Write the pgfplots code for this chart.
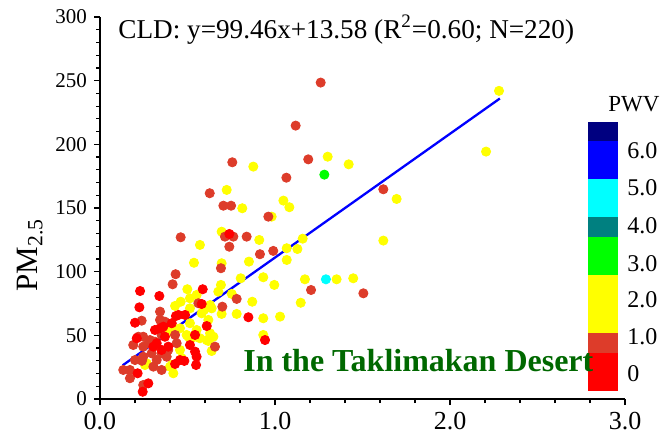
\documentclass[border=0pt]{standalone}
\usepackage{fontspec}
\setmainfont{Liberation Serif}
\usepackage{pgfplots}
\pgfplotsset{compat=1.18}
\definecolor{cbrown}{RGB}{221,60,42}
\definecolor{cred}{RGB}{255,0,0}
\definecolor{cyel}{RGB}{255,255,0}
\definecolor{cgrn}{RGB}{0,255,0}
\definecolor{ccyan}{RGB}{0,255,255}
\definecolor{cteal}{RGB}{0,128,128}
\definecolor{cblue}{RGB}{0,0,255}
\definecolor{cnavy}{RGB}{0,0,128}
\definecolor{tgreen}{RGB}{0,104,0}
\begin{document}
\begin{tikzpicture}
\begin{axis}[
  scale only axis, width=262.5pt, height=191pt,
  xmin=0, xmax=3, ymin=0, ymax=300,
  axis lines=left, axis line style={-, line width=0.7pt},
  xtick={0,1,2,3}, minor x tick num=4,
  ytick={0,50,...,300}, minor y tick num=4,
  tick align=outside, major tick length=3pt, minor tick length=2pt,
  tick style={line width=0.6pt, black},
  /pgf/number format/assume math mode=true,
  x tick label style={font=\fontsize{13}{13}\selectfont, /pgf/number format/.cd, fixed, fixed zerofill, precision=1},
  y tick label style={font=\fontsize{10.5}{10.5}\selectfont},
  ylabel={PM\textsubscript{2.5}},
  every axis y label/.style={at={(rel axis cs:-0.133,0.377)}, rotate=90, anchor=center, font=\fontsize{15.5}{15.5}\selectfont},
  clip=false,
]
\coordinate (bl) at (rel axis cs:0,0);
% colour bar
\addplot[fill=cred, draw=none, forget plot] coordinates {(2.789,6.5) (2.96,6.5) (2.96,36.4) (2.789,36.4)} -- cycle;
\addplot[fill=cbrown, draw=none, forget plot] coordinates {(2.789,36.4) (2.96,36.4) (2.96,51.6) (2.789,51.6)} -- cycle;
\addplot[fill=cyel, draw=none, forget plot] coordinates {(2.789,51.6) (2.96,51.6) (2.96,97.4) (2.789,97.4)} -- cycle;
\addplot[fill=cgrn, draw=none, forget plot] coordinates {(2.789,97.4) (2.96,97.4) (2.96,127.5) (2.789,127.5)} -- cycle;
\addplot[fill=cteal, draw=none, forget plot] coordinates {(2.789,127.5) (2.96,127.5) (2.96,142.7) (2.789,142.7)} -- cycle;
\addplot[fill=ccyan, draw=none, forget plot] coordinates {(2.789,142.7) (2.96,142.7) (2.96,172.6) (2.789,172.6)} -- cycle;
\addplot[fill=cblue, draw=none, forget plot] coordinates {(2.789,172.6) (2.96,172.6) (2.96,202.9) (2.789,202.9)} -- cycle;
\addplot[fill=cnavy, draw=none, forget plot] coordinates {(2.789,202.9) (2.96,202.9) (2.96,217.8) (2.789,217.8)} -- cycle;
% yellow points
\addplot[only marks, mark=*, mark size=2.3pt, color=cyel] table {
0.695 131.4
0.91 124.9
0.571 121
1.067 118.4
0.537 107
0.695 106.6
0.851 107.9
1.067 109.2
0.804 94.8
0.933 95.6
0.996 89.6
0.499 86.2
0.552 81.7
0.514 79.1
0.676 84.3
0.691 89.6
0.753 82.5
0.87 76.4
0.429 73.1
0.461 76.4
0.514 71.2
0.594 69.9
0.638 71.2
0.695 66.8
0.781 66.8
0.933 63.4
1.029 64.7
0.419 55.5
0.457 55.5
0.514 59.5
0.552 54.2
0.619 62.1
0.4 52.9
0.505 48.9
0.571 47.7
0.648 48.9
0.619 45.6
0.638 37.7
0.267 28
0.4 25.4
0.419 20.2
0.457 38.5
0.467 32
0.933 50.3
0.257 26.7
0.41 26.7
0.524 47.7
0.495 50.3
0.61 46.3
0.629 51.6
0.581 67.3
0.629 73.8
0.876 182.5
1.301 190.3
1.421 184.3
0.724 164.2
0.813 149.8
1.048 155.8
1.082 150.6
0.981 143.2
1.695 157.1
1.128 117.8
1.158 125.9
1.171 94
1.352 94
1.447 94.8
1.619 124.4
1.147 75.6
2.28 242
2.206 194.3
};
% brown points
\addplot[only marks, mark=*, mark size=2.3pt, color=cbrown] table {
0.461 127
0.714 127.5
0.762 127.5
0.838 127.5
0.739 119.6
0.914 113.7
0.99 116.3
0.691 102.7
0.432 98
0.415 90.1
0.781 78.6
0.343 68.6
0.699 72.5
0.238 61.5
0.343 62.1
0.371 60.7
0.19 42.4
0.247 48.9
0.276 43.8
0.314 45
0.352 50.3
0.429 50.3
0.438 43.8
0.657 41.1
0.133 22.8
0.171 16.3
0.2 30.6
0.247 33.2
0.295 35.9
0.324 30.6
0.352 22.8
0.381 33.2
0.247 11
0.219 48.9
0.247 41.1
0.286 46.3
0.39 38.5
0.305 25.4
0.562 75.2
1.261 248.5
1.118 214.7
0.756 185.9
1.19 188.2
1.065 173.8
0.627 161.6
0.705 151.8
0.749 151.8
0.962 143.2
1.619 164.7
1.206 85.6
1.505 83
0.352 35.9
0.24 30
0.171 22.8
};
% red points
\addplot[only marks, mark=*, mark size=2.3pt, color=cred] table {
0.739 129.6
0.229 84.8
0.339 80.9
0.587 86.2
0.225 72
0.581 74.6
0.848 64.2
0.2 59.9
0.434 65.2
0.61 57.3
0.314 54.2
0.343 55.5
0.21 47.7
0.543 50.3
0.215 20.2
0.39 41.1
0.429 27.5
0.482 29.9
0.514 42.4
0.543 37.2
0.552 33.2
0.549 26.7
0.276 12.3
0.244 5.7
0.943 46.3
0.305 41.1
0.352 38.5
0.362 56.8
0.41 59.5
0.324 43.8
0.371 48.9
0.457 30.6
0.448 66
0.486 66
};
\addplot[only marks, mark=*, mark size=2.3pt, color=cgrn] table {
1.282 176.2
};
\addplot[only marks, mark=*, mark size=2.3pt, color=ccyan] table {
1.291 94
};
% regression line
\addplot[cblue, line width=1.15pt] coordinates {(0.13,26.5) (2.285,236)};
% texts
\node[anchor=west, inner sep=0pt, font=\fontsize{13.6}{13.6}\selectfont] at (axis cs:0.103,290) {CLD: y=99.46x+13.58 (R\textsuperscript{2}=0.60; N=220)};
\node[anchor=base west, inner sep=0pt, text=tgreen, font=\bfseries\fontsize{16}{16}\selectfont] at (axis cs:0.817,21.5) {In the Taklimakan Desert};
\node[anchor=west, inner sep=0pt, font=\fontsize{11.5}{11.5}\selectfont] at (axis cs:2.903,231.5) {PWV};
\node[anchor=west, inner sep=0pt, font=\fontsize{12}{12}\selectfont] at (axis cs:3.011,194.8) {6.0};
\node[anchor=west, inner sep=0pt, font=\fontsize{12}{12}\selectfont] at (axis cs:3.011,165.7) {5.0};
\node[anchor=west, inner sep=0pt, font=\fontsize{12}{12}\selectfont] at (axis cs:3.011,136.0) {4.0};
\node[anchor=west, inner sep=0pt, font=\fontsize{12}{12}\selectfont] at (axis cs:3.011,106.2) {3.0};
\node[anchor=west, inner sep=0pt, font=\fontsize{12}{12}\selectfont] at (axis cs:3.011,77.8) {2.0};
\node[anchor=west, inner sep=0pt, font=\fontsize{12}{12}\selectfont] at (axis cs:3.011,48.9) {1.0};
\node[anchor=west, inner sep=0pt, font=\fontsize{12}{12}\selectfont] at (axis cs:3.011,19.6) {0};
\end{axis}
\pgfresetboundingbox
\path (bl) ++(-50pt,-19.5pt) rectangle ++(331pt,219pt);
\end{tikzpicture}
\end{document}
